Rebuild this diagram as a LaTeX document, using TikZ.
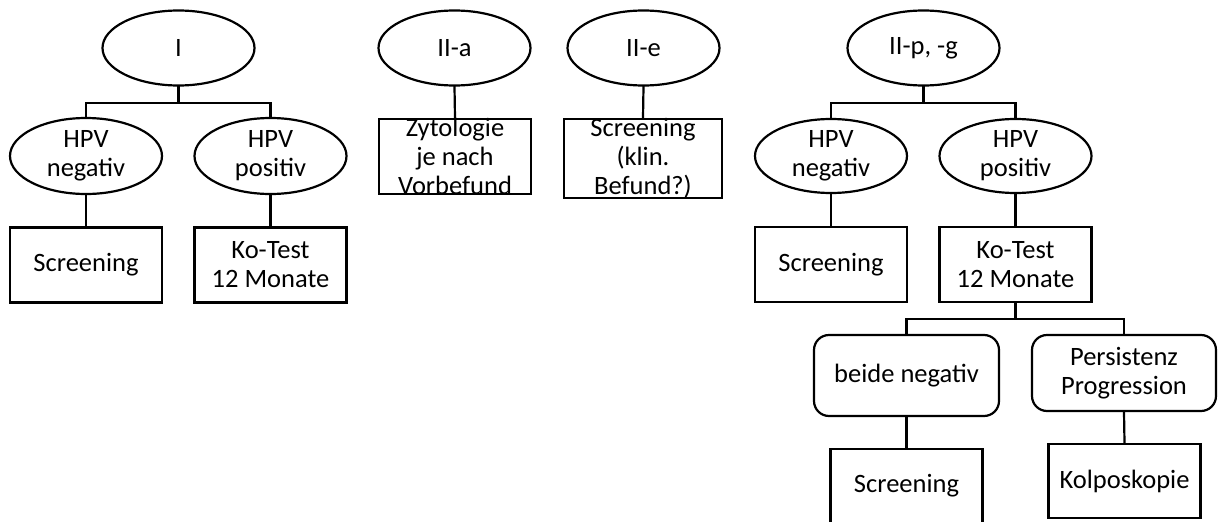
\documentclass[tikz,border=0pt]{standalone}
\usepackage{fontspec}
\setmainfont{Carlito}
\usetikzlibrary{shapes.geometric}
\tikzset{
  base/.style={draw=black, line width=2.2pt, inner sep=0pt, fill=white},
  ell/.style={base, ellipse, minimum width=152pt},
  boxn/.style={base, rectangle, minimum width=152pt, minimum height=75pt},
  rbox/.style={base, rectangle, rounded corners=15pt},
  txt/.style={label={[align=center, font=\fontsize{26.5}{29}\selectfont]center:#1}},
  conn/.style={line width=2.2pt, line cap=rect}
}
\begin{document}
\begin{tikzpicture}[x=1pt,y=-1pt]
\useasboundingbox (0,0) rectangle (1221,522);
\clip (0,0) rectangle (1221,522);
% top row ellipses
\node[ell, minimum height=75pt, txt={I}] (I) at (178.5,48) {};
\node[ell, minimum height=75pt, txt={II-a}] (IIa) at (454.5,48) {};
\node[ell, minimum height=75pt, txt={II-e}] (IIe) at (643.5,48) {};
\node[ell, minimum height=75pt, txt={II-p, -g}] (IIp) at (923.5,48) {};
% branch I
\node[ell, minimum height=76pt, txt={HPV\\negativ}] (Ineg) at (86,156) {};
\node[ell, minimum height=76pt, txt={HPV\\positiv}] (Ipos) at (270.5,156) {};
\node[boxn, txt={Screening}] (Iscr) at (86,265) {};
\node[boxn, txt={Ko-Test\\12 Monate}] (Iko) at (270.5,265) {};
% II-a, II-e
\node[boxn, txt={Zytologie\\je nach\\Vorbefund}] (IIabox) at (455,156.5) {};
\node[boxn, minimum width=158pt, minimum height=79pt, txt={Screening\\(klin.\\Befund?)}] (IIebox) at (643,158.5) {};
% branch II-p
\node[ell, minimum height=74pt, txt={HPV\\negativ}] (IIpneg) at (831,156) {};
\node[ell, minimum height=74pt, txt={HPV\\positiv}] (IIppos) at (1015.5,156) {};
\node[boxn, txt={Screening}] (IIpscr) at (831,264.5) {};
\node[boxn, txt={Ko-Test\\12 Monate}] (IIpko) at (1015.5,264.5) {};
\node[rbox, minimum width=185pt, minimum height=81pt, txt={beide negativ}] (beide) at (906.5,375.5) {};
\node[rbox, minimum width=184pt, minimum height=76pt, txt={Persistenz\\Progression}] (pers) at (1124,373) {};
\node[boxn, minimum height=74pt, txt={Screening}] (scr2) at (906.5,486) {};
\node[boxn, minimum height=74pt, txt={Kolposkopie}] (kolpo) at (1124.5,481) {};
% connectors
\draw[conn] (I.south) -- ++(0,16) -| (Ineg.north);
\draw[conn] (I.south) -- ++(0,16) -| (Ipos.north);
\draw[conn] (Ineg.south) -- (Iscr.north);
\draw[conn] (Ipos.south) -- (Iko.north);
\draw[conn] (IIa.south) -- (IIabox.north);
\draw[conn] (IIe.south) -- (IIebox.north);
\draw[conn] (IIp.south) -- ++(0,16) -| (IIpneg.north);
\draw[conn] (IIp.south) -- ++(0,16) -| (IIppos.north);
\draw[conn] (IIpneg.south) -- (IIpscr.north);
\draw[conn] (IIppos.south) -- (IIpko.north);
\draw[conn] (IIpko.south) -- ++(0,16) -| (beide.north);
\draw[conn] (IIpko.south) -- ++(0,16) -| (pers.north);
\draw[conn] (beide.south) -- (scr2.north);
\draw[conn] (pers.south) -- (kolpo.north);
\end{tikzpicture}
\end{document}
